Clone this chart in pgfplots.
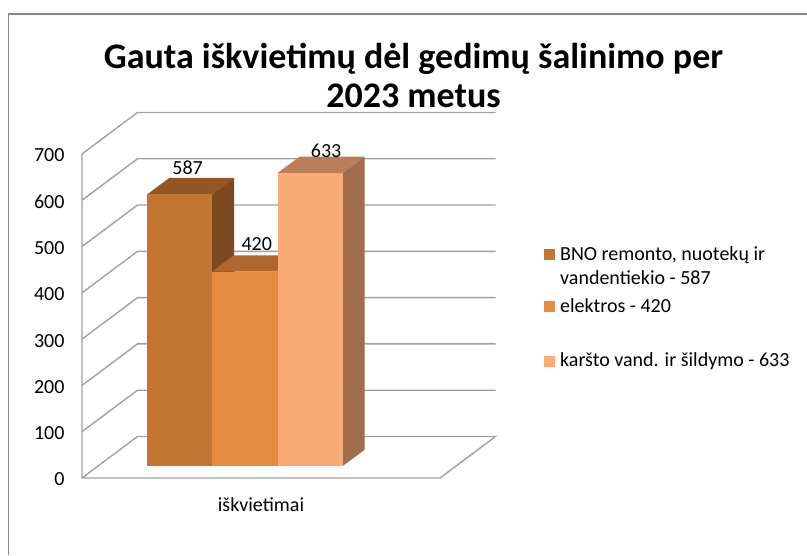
\documentclass[border=0pt]{standalone}
\usepackage{fontspec}
\setmainfont{Carlito}
\usepackage{pgfplots}
\pgfplotsset{compat=1.18}
\definecolor{grid3d}{HTML}{A0A0A0}
\definecolor{frame3d}{HTML}{868686}
\definecolor{aF}{HTML}{C37532}
\definecolor{aT}{HTML}{935726}
\definecolor{aS}{HTML}{7B491E}
\definecolor{bF}{HTML}{E58B3F}
\definecolor{bT}{HTML}{B0672E}
\definecolor{cF}{HTML}{F9AB77}
\definecolor{cT}{HTML}{BA7F58}
\definecolor{cS}{HTML}{A06D4D}
\pgfplotsset{
  wall/.style={
    scale only axis, width=413.5pt, height=365.7pt,
    xmin=82, xmax=495.5,
    axis line style={draw=none}, tick style={draw=none}, clip=false,
    tick label style={font=\fontsize{20}{24}\selectfont, text=black},
    /pgf/number format/assume math mode=true,
  },
  front/.style 2 args={
    ybar, bar width=#1, bar shift=0pt, fill=#2, draw=none,
    nodes near coords,
    every node near coord/.append style={font=\fontsize{20}{24}\selectfont,
      anchor=center, text=black},
  },
  face/.style={fill=#1, draw=none, forget plot, no marks},
}
\begin{document}
\begin{tikzpicture}[x=1pt,y=1pt]
\useasboundingbox (0,0) rectangle (807,555);
\draw[frame3d, line width=1.4pt] (8.5,0) -- (8.5,541) -- (807,541);
\node[font=\fontsize{36}{39}\selectfont\bfseries, align=center] at (413.5,480)
  {Gauta iškvietimų dėl gedimų šalinimo per\\2023 metus};

% floor, walls and y scale
\begin{axis}[wall, at={(82pt,77pt)}, anchor=south west,
  ymin=0, ymax=790,
  ytick={0,100,...,700}, yticklabel shift=14pt,
  yticklabel style={yshift=-1.5pt},
  xtick={261}, xticklabels={iškvietimai}, xticklabel shift=16pt,
  unbounded coords=jump,
]
\addplot[grid3d, line width=1.4pt, no marks] coordinates {
  (82,700) (82,0) (440,0) (495.5,89.65) (137.5,89.65) (82,0) (nan,nan)
  (82,100) (137.5,189.65) (495.5,189.65) (nan,nan)
  (82,200) (137.5,289.65) (495.5,289.65) (nan,nan)
  (82,300) (137.5,389.65) (495.5,389.65) (nan,nan)
  (82,400) (137.5,489.65) (495.5,489.65) (nan,nan)
  (82,500) (137.5,589.65) (495.5,589.65) (nan,nan)
  (82,600) (137.5,689.65) (495.5,689.65) (nan,nan)
  (82,700) (137.5,789.65) (495.5,789.65)
};
\end{axis}

% bars: zero sits 12 px above the front floor edge
\begin{axis}[wall, at={(82pt,77pt)}, anchor=south west,
  ymin=-25.92, ymax=764.08,
  xtick=\empty, ytick=\empty,
  legend style={draw=none, fill=none, at={(1.11,0.645)}, anchor=north west,
    cells={anchor=base west},
    nodes={inner sep=0pt}, font=\fontsize{20}{24}\selectfont,
    row sep=0pt, /tikz/every odd column/.append style={column sep=5pt}},
  legend image code/.code={\fill[#1] (0pt,0pt) rectangle (11pt,11pt);},
]
\addplot[face=aT] coordinates {(147.3,587) (212,587) (234,622.2) (169.3,622.2)} --cycle;
\addplot[face=aS] coordinates {(212,0) (212,587) (234,622.2) (234,35.2)} --cycle;
\addplot[front={64.7pt}{aF}, every node near coord/.append style={xshift=8pt, yshift=27pt}] coordinates {(179.65,587)};
\addlegendentry{\rule[-4pt]{0pt}{20pt}BNO remonto, nuotekų ir}
\addlegendimage{legend image code/.code={}}
\addlegendentry{\rule[-4pt]{0pt}{27pt}vandentiekio - 587}

\addplot[face=bT] coordinates {(212,420) (277.5,420) (299.5,455.2) (234,455.2)} --cycle;
\addplot[front={65.5pt}{bF}, every node near coord/.append style={xshift=12pt, yshift=28pt}] coordinates {(244.75,420)};
\addlegendentry{\rule[-4pt]{0pt}{30pt}elektros - 420}

\addplot[face=cT] coordinates {(277.5,633) (342.7,633) (364.7,668.2) (299.5,668.2)} --cycle;
\addplot[face=cS] coordinates {(342.7,0) (342.7,633) (364.7,668.2) (364.7,35.2)} --cycle;
\addplot[front={65.2pt}{cF}, every node near coord/.append style={xshift=16pt, yshift=22pt}] coordinates {(310.1,633)};
\addlegendentry{\rule[-4pt]{0pt}{57pt}karšto vand. ir šildymo - 633}
\end{axis}
\end{tikzpicture}
\end{document}
